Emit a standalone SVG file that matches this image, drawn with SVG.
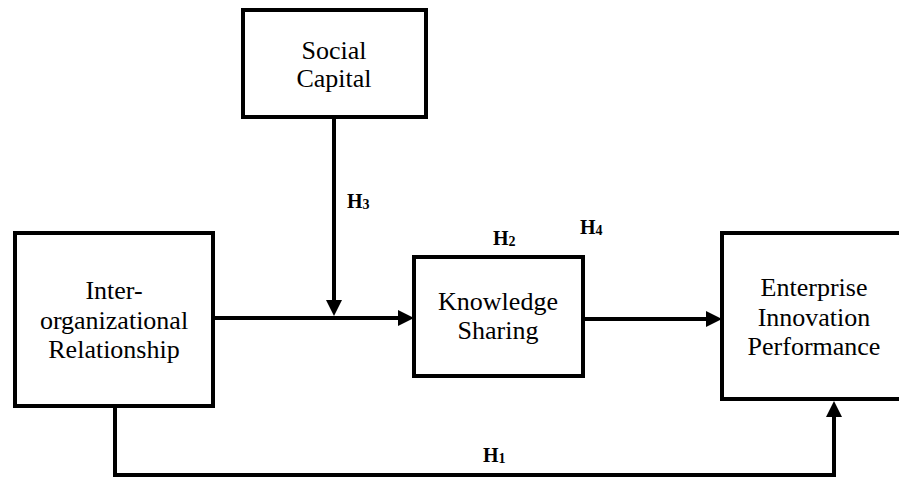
<svg xmlns="http://www.w3.org/2000/svg" width="899" height="478" viewBox="0 0 899 478">
<defs>
<style>
.box{fill:#fff;stroke:#000;stroke-width:4}
.lbl{font-family:'Liberation Serif','Times New Roman',serif;font-size:26px;fill:#000;text-anchor:middle}
.h{font-family:'Liberation Serif','Times New Roman',serif;font-size:20px;font-weight:bold;fill:#000}
.sub{font-size:14px}
.con{fill:none;stroke:#000;stroke-width:4}
</style>
<marker id="arr" markerUnits="userSpaceOnUse" markerWidth="16" markerHeight="16" viewBox="0 0 16 16" refX="8" refY="8" orient="auto">
<path d="M0,0 L16,8 L0,16 z" fill="#000"/>
</marker>
</defs>
<rect width="899" height="478" fill="#fff"/>
<g id="connectors">
<path class="con" d="M213,318 H406" marker-end="url(#arr)"/>
<path class="con" d="M334,117 V308" marker-end="url(#arr)"/>
<path class="con" d="M583,319 H714" marker-end="url(#arr)"/>
<path class="con" d="M115,406 V475 H834 V409" marker-end="url(#arr)"/>
</g>
<g id="social-capital">
<rect class="box" x="243" y="10" width="183" height="107"/>
<text class="lbl" x="334" y="59">Social</text>
<text class="lbl" x="334" y="87">Capital</text>
</g>
<g id="inter-organizational">
<rect class="box" x="15" y="233" width="198" height="173"/>
<text class="lbl" x="114" y="299">Inter-</text>
<text class="lbl" x="114" y="329">organizational</text>
<text class="lbl" x="114" y="358">Relationship</text>
</g>
<g id="knowledge-sharing">
<rect class="box" x="414" y="257" width="169" height="119"/>
<text class="lbl" x="498" y="310">Knowledge</text>
<text class="lbl" x="498" y="339">Sharing</text>
</g>
<g id="enterprise-innovation-performance">
<rect class="box" x="722" y="233" width="182" height="166"/>
<text class="lbl" x="814" y="296">Enterprise</text>
<text class="lbl" x="814" y="326">Innovation</text>
<text class="lbl" x="814" y="355">Performance</text>
</g>
<g id="hypotheses">
<text class="h" x="347" y="208">H<tspan class="sub" dy="1">3</tspan></text>
<text class="h" x="493" y="245">H<tspan class="sub" dy="1">2</tspan></text>
<text class="h" x="580" y="234">H<tspan class="sub" dy="1">4</tspan></text>
<text class="h" x="483" y="462">H<tspan class="sub" dy="1">1</tspan></text>
</g>
</svg>
